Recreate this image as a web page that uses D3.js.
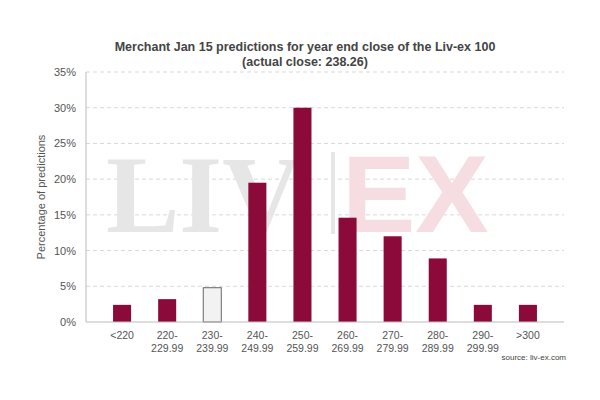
<!DOCTYPE html>
<html><head><meta charset="utf-8">
<script src="https://cdn.jsdelivr.net/npm/d3@7"></script>
<style>body{margin:0;background:#fff;font-family:Arial,"Liberation Sans",sans-serif}</style>
</head><body><div id="chart"></div>
<script>
// chart data
const categories = ["<220", "220-\n229.99", "230-\n239.99", "240-\n249.99", "250-\n259.99", "260-\n269.99", "270-\n279.99", "280-\n289.99", "290-\n299.99", ">300"];
const values = [2.4, 3.2, 4.8, 19.5, 30, 14.6, 12.0, 8.9, 2.4, 2.4];
const highlight = [false, false, true, false, false, false, false, false, false, false];
const yTicks = [0, 5, 10, 15, 20, 25, 30, 35];

const margin = {top: 72, right: 36, bottom: 78, left: 86};
const width = 600 - margin.left - margin.right;
const height = 400 - margin.top - margin.bottom;

const svg = d3.select("#chart").append("svg")
    .attr("width", 600).attr("height", 400);

svg.append("text").attr("x", 305).attr("y", 51).attr("text-anchor", "middle")
    .attr("font-size", 12.5).attr("font-weight", "bold").attr("fill", "#444")
    .text("Merchant Jan 15 predictions for year end close of the Liv-ex 100");
svg.append("text").attr("x", 305).attr("y", 66).attr("text-anchor", "middle")
    .attr("font-size", 12.5).attr("font-weight", "bold").attr("fill", "#444")
    .text("(actual close: 238.26)");

const g = svg.append("g").attr("transform", `translate(${margin.left},${margin.top})`);

const x = d3.scaleBand().domain(categories).range([0, width]).padding(0.6);
const y = d3.scaleLinear().domain([0, 35]).range([height, 0]);

// gridlines
g.selectAll(".grid").data(yTicks.slice(1)).enter().append("line")
    .attr("x1", 0).attr("x2", width)
    .attr("y1", d => y(d)).attr("y2", d => y(d))
    .attr("stroke", "#d9d9d9").attr("stroke-dasharray", "4,3");

// watermark
g.append("text").attr("x", 20).attr("y", 160).attr("font-size", 110)
    .attr("font-family", "Liberation Serif, serif").attr("font-weight", "bold")
    .attr("fill", "#e6e6e6").text("LIV");
g.append("rect").attr("x", 245).attr("y", 80).attr("width", 4).attr("height", 82).attr("fill", "#e6e6e6");
g.append("text").attr("x", 256).attr("y", 160).attr("font-size", 110)
    .attr("font-family", "Liberation Sans, sans-serif").attr("font-weight", "bold")
    .attr("fill", "#f5dde2").text("EX");

// bars
g.selectAll(".bar").data(values).enter().append("rect")
    .attr("x", (d, i) => x(categories[i]))
    .attr("y", d => y(d))
    .attr("width", x.bandwidth())
    .attr("height", d => height - y(d))
    .attr("fill", (d, i) => highlight[i] ? "#f2f2f2" : "#8b0a3a")
    .attr("stroke", (d, i) => highlight[i] ? "#666" : "none");

// axes
const yAxis = g.append("g").call(d3.axisLeft(y).tickValues(yTicks).tickFormat(d => d + "%").tickSize(0).tickPadding(10));
yAxis.select(".domain").remove();
yAxis.selectAll("text").attr("font-size", 11).attr("fill", "#555");

g.append("line").attr("x1", 0).attr("x2", width).attr("y1", height).attr("y2", height).attr("stroke", "#bbb");
g.append("line").attr("x1", 0).attr("x2", 0).attr("y1", 0).attr("y2", height).attr("stroke", "#bbb");

const xl = g.selectAll(".xl").data(categories).enter().append("text")
    .attr("text-anchor", "middle").attr("font-size", 10.5).attr("fill", "#555")
    .attr("transform", d => `translate(${x(d) + x.bandwidth() / 2},${height + 17})`);
xl.selectAll("tspan").data(d => d.split("\n")).enter().append("tspan")
    .attr("x", 0).attr("dy", (d, i) => i ? 13 : 0).text(d => d);

svg.append("text").attr("transform", "translate(45,197) rotate(-90)")
    .attr("text-anchor", "middle").attr("font-size", 11).attr("fill", "#555")
    .text("Percentage of predictions");

svg.append("text").attr("x", 566).attr("y", 360).attr("text-anchor", "end")
    .attr("font-size", 8).attr("fill", "#444").text("source: liv-ex.com");
</script></body></html>
